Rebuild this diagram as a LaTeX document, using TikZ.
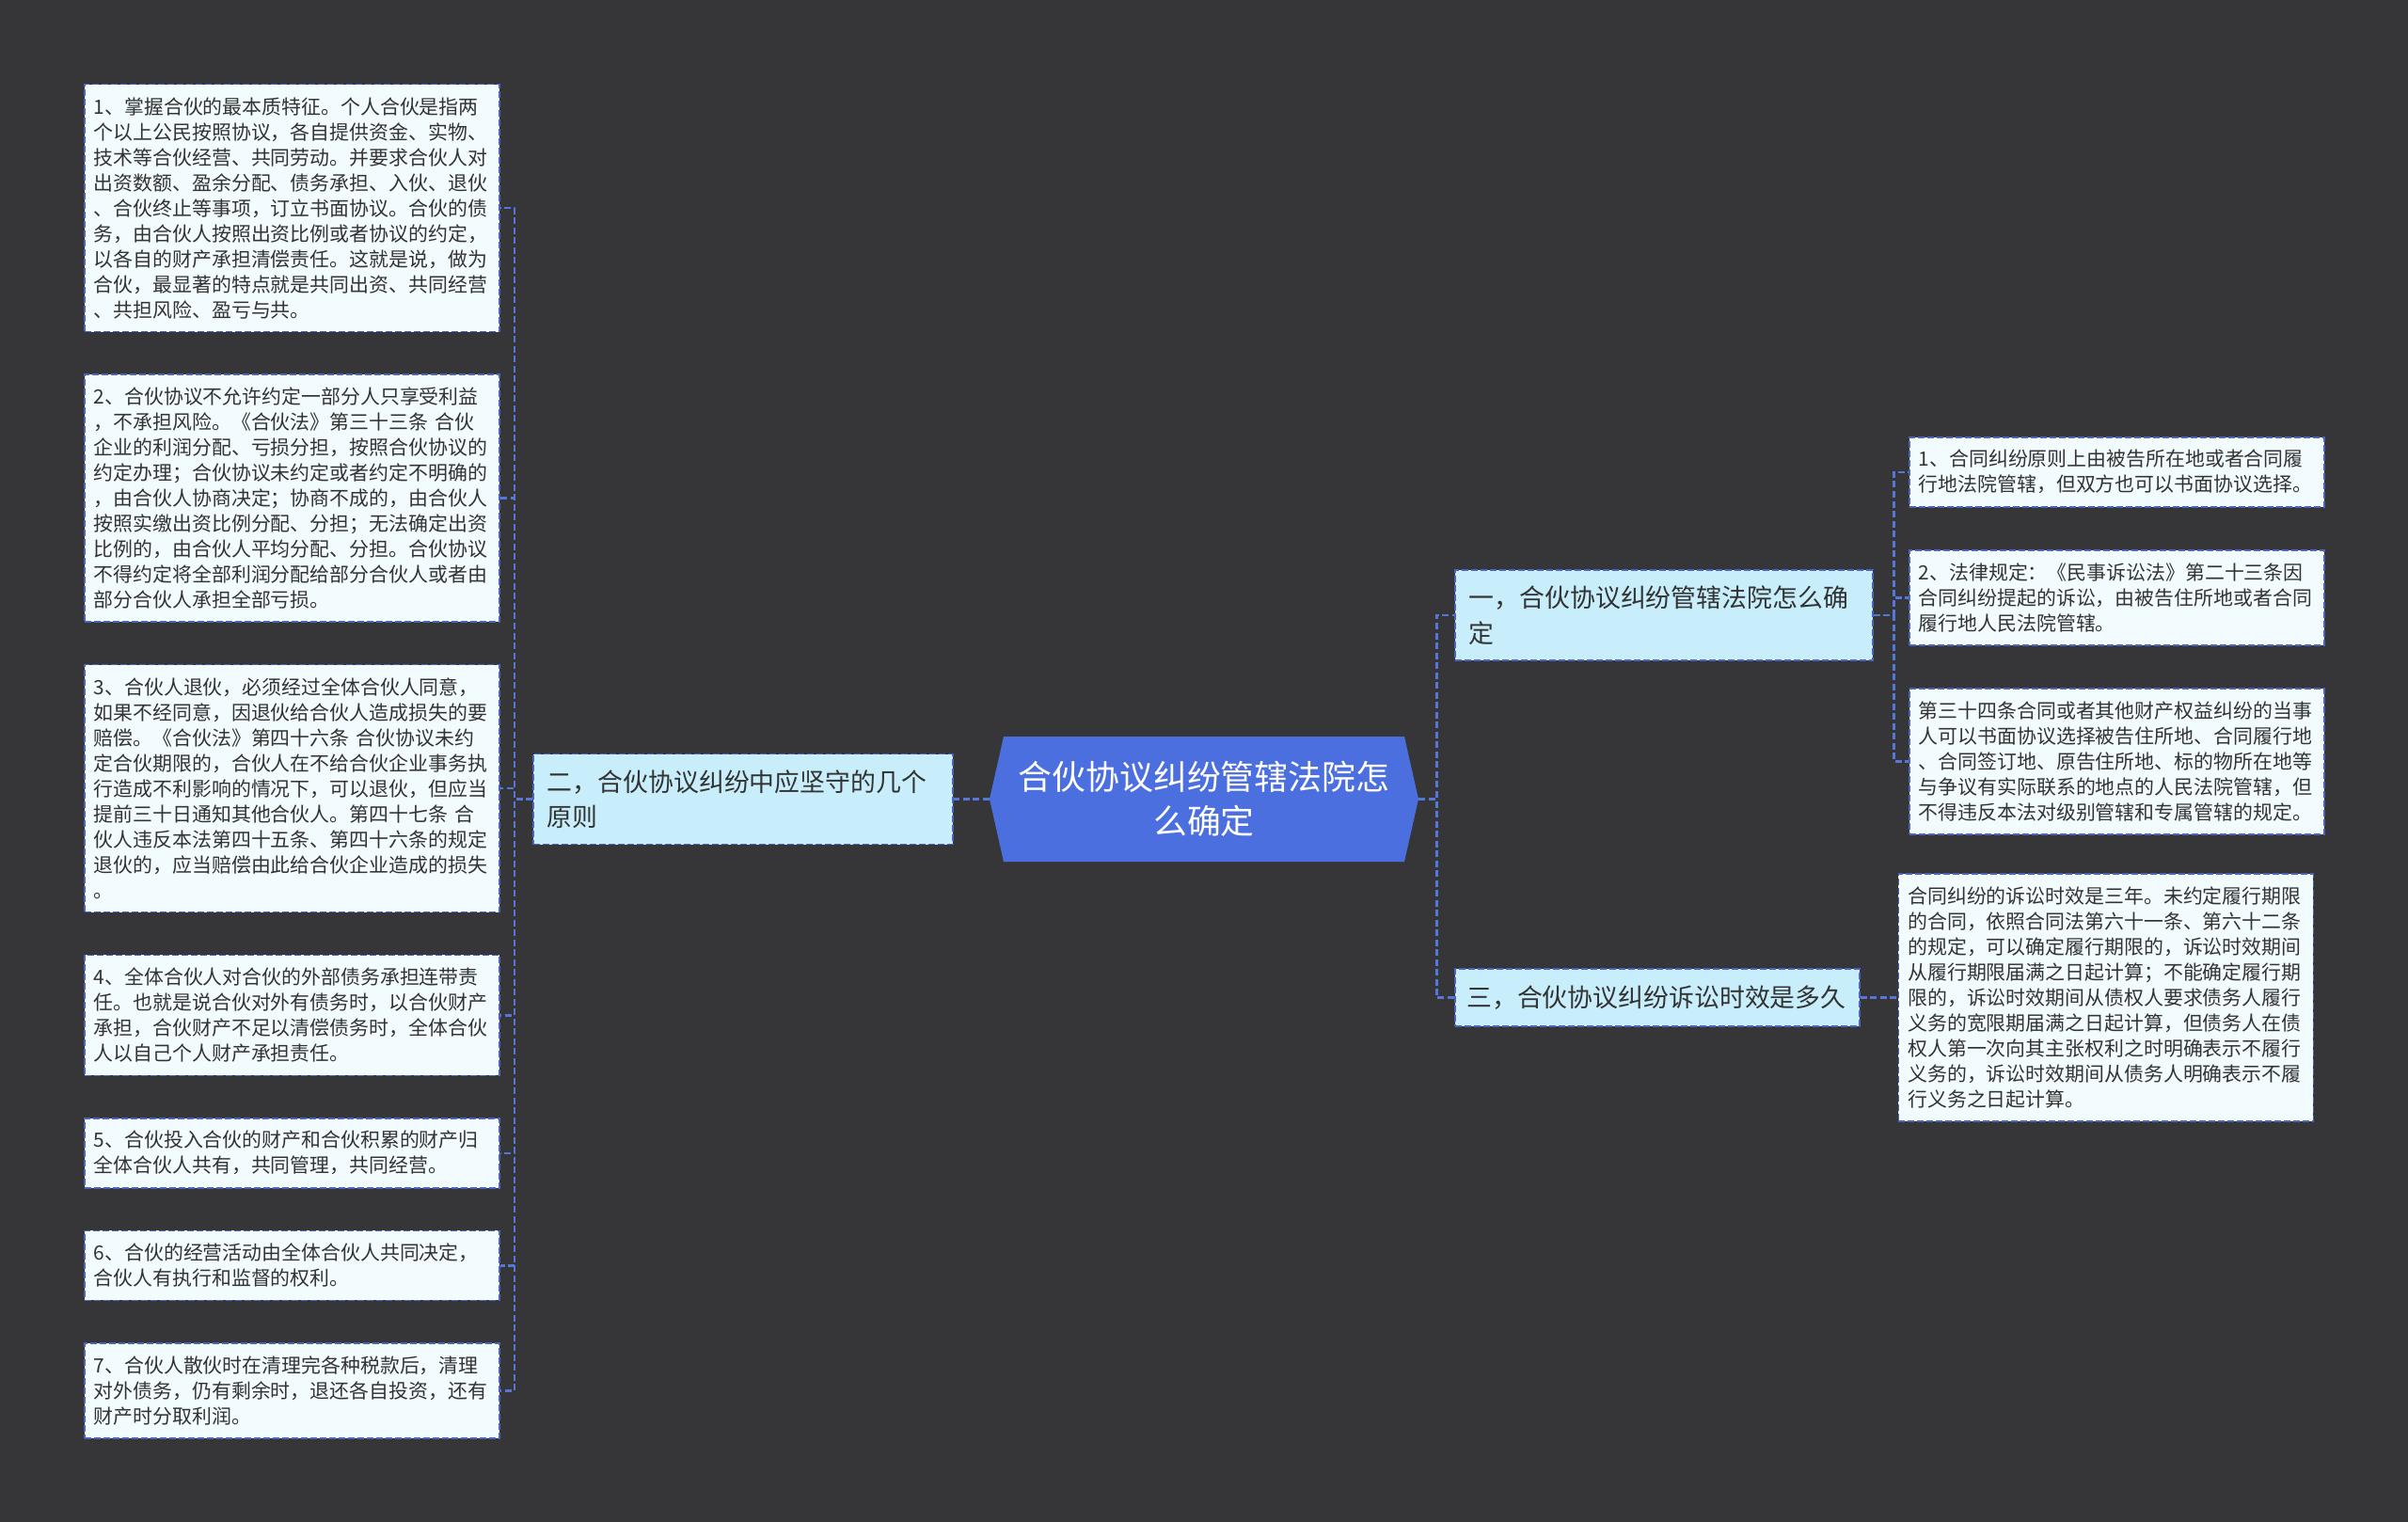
\documentclass[tikz,border=0pt]{standalone}
\usepackage{fontspec}
\setmainfont{Noto Sans CJK SC}
\usepackage{xcolor}
\usepackage{tikz}
\usetikzlibrary{positioning,shapes.symbols}
\definecolor{canvas}{HTML}{363638}
\definecolor{rootfill}{HTML}{4C6FDF}
\definecolor{branchfill}{HTML}{C8EEFB}
\definecolor{leaffill}{HTML}{F2FBFE}
\definecolor{edgec}{HTML}{4A64BF}
\definecolor{linkc}{HTML}{5677DA}
\definecolor{ink}{HTML}{333333}
\newcommand\rootfont{\fontsize{20.4pt}{27pt}\selectfont}
\newcommand\branchfont{\fontsize{15.3pt}{21.3pt}\selectfont}
\newcommand\leaffont{\fontsize{11.9pt}{15.35pt}\selectfont}
\tikzset{
  rootbox/.style={shape=signal,signal to=west and east,signal pointer angle=154.6,
    fill=rootfill,text=white,font=\rootfont,align=center,inner sep=0pt,
    minimum width=9.12cm,minimum height=2.66cm},
  branch/.style={draw=edgec,line width=0.03cm,dash pattern=on 0.14cm off 0.06cm,
    fill=branchfill,text=ink,font=\branchfont,align=left,inner xsep=0.3cm,
    inner ysep=0pt,minimum height=1.92cm},
  leaf/.style={draw=edgec,line width=0.03cm,dash pattern=on 0.14cm off 0.06cm,
    fill=leaffill,text=ink,font=\leaffont,align=left,text width=8.42cm,
    inner xsep=0.2cm,inner ysep=0pt},
  lines/.style={minimum height=#1*0.54cm+0.4cm},
  link/.style={draw=linkc,line width=0.05cm,dash pattern=on 0.14cm off 0.07cm},
}
\begin{document}
\begin{tikzpicture}[node distance=0.88cm]
  \fill[canvas] (0,0) rectangle (51.2,-32.36);
  % centre
  \node[rootbox] (root) at (25.6,-16.99) {合伙协议纠纷管辖法院怎\\么确定};
  % branches
  \node[branch,text width=8.32cm,left=0.76cm of root] (b2) {二，合伙协议纠纷中应坚守的几个\\原则};
  \node[branch,text width=8.28cm,anchor=west] (b1) at (30.92,-13.08) {一，合伙协议纠纷管辖法院怎么确\\定};
  \node[branch,text width=8.1cm,minimum height=1.22cm,inner xsep=0.25cm,anchor=west] (b3) at (30.92,-21.21) {三，合伙协议纠纷诉讼时效是多久};
  % left leaves
  \node[leaf,lines=9,anchor=north west] (l1) at (1.78,-1.78) {1、掌握合伙的最本质特征。个人合伙是指两\\
    个以上公民按照协议，各自提供资金、实物、\\
    技术等合伙经营、共同劳动。并要求合伙人对\\
    出资数额、盈余分配、债务承担、入伙、退伙\\
    、合伙终止等事项，订立书面协议。合伙的债\\
    务，由合伙人按照出资比例或者协议的约定，\\
    以各自的财产承担清偿责任。这就是说，做为\\
    合伙，最显著的特点就是共同出资、共同经营\\
    、共担风险、盈亏与共。};
  \node[leaf,lines=9,below=of l1] (l2) {2、合伙协议不允许约定一部分人只享受利益\\
    ，不承担风险。《合伙法》第三十三条 合伙\\
    企业的利润分配、亏损分担，按照合伙协议的\\
    约定办理；合伙协议未约定或者约定不明确的\\
    ，由合伙人协商决定；协商不成的，由合伙人\\
    按照实缴出资比例分配、分担；无法确定出资\\
    比例的，由合伙人平均分配、分担。合伙协议\\
    不得约定将全部利润分配给部分合伙人或者由\\
    部分合伙人承担全部亏损。};
  \node[leaf,lines=9,below=of l2] (l3) {3、合伙人退伙，必须经过全体合伙人同意，\\
    如果不经同意，因退伙给合伙人造成损失的要\\
    赔偿。《合伙法》第四十六条 合伙协议未约\\
    定合伙期限的，合伙人在不给合伙企业事务执\\
    行造成不利影响的情况下，可以退伙，但应当\\
    提前三十日通知其他合伙人。第四十七条 合\\
    伙人违反本法第四十五条、第四十六条的规定\\
    退伙的，应当赔偿由此给合伙企业造成的损失\\
    。};
  \node[leaf,lines=4,below=of l3] (l4) {4、全体合伙人对合伙的外部债务承担连带责\\
    任。也就是说合伙对外有债务时，以合伙财产\\
    承担，合伙财产不足以清偿债务时，全体合伙\\
    人以自己个人财产承担责任。};
  \node[leaf,lines=2,below=of l4] (l5) {5、合伙投入合伙的财产和合伙积累的财产归\\
    全体合伙人共有，共同管理，共同经营。};
  \node[leaf,lines=2,below=of l5] (l6) {6、合伙的经营活动由全体合伙人共同决定，\\
    合伙人有执行和监督的权利。};
  \node[leaf,lines=3,below=of l6] (l7) {7、合伙人散伙时在清理完各种税款后，清理\\
    对外债务，仍有剩余时，退还各自投资，还有\\
    财产时分取利润。};
  % right leaves
  \node[leaf,lines=2,anchor=north west] (r1) at (40.58,-9.28) {1、合同纠纷原则上由被告所在地或者合同履\\
    行地法院管辖，但双方也可以书面协议选择。};
  \node[leaf,lines=3,below=0.89cm of r1] (r2) {2、法律规定：《民事诉讼法》第二十三条因\\
    合同纠纷提起的诉讼，由被告住所地或者合同\\
    履行地人民法院管辖。};
  \node[leaf,lines=5,below=0.89cm of r2] (r3) {第三十四条合同或者其他财产权益纠纷的当事\\
    人可以书面协议选择被告住所地、合同履行地\\
    、合同签订地、原告住所地、标的物所在地等\\
    与争议有实际联系的地点的人民法院管辖，但\\
    不得违反本法对级别管辖和专属管辖的规定。};
  \node[leaf,lines=9,right=0.8cm of b3] (r4) {合同纠纷的诉讼时效是三年。未约定履行期限\\
    的合同，依照合同法第六十一条、第六十二条\\
    的规定，可以确定履行期限的，诉讼时效期间\\
    从履行期限届满之日起计算；不能确定履行期\\
    限的，诉讼时效期间从债权人要求债务人履行\\
    义务的宽限期届满之日起计算，但债务人在债\\
    权人第一次向其主张权利之时明确表示不履行\\
    义务的，诉讼时效期间从债务人明确表示不履\\
    行义务之日起计算。};
  % connectors
  \draw[link] (root.west) -- (b2.east);
  \draw[link] (root.east) -- ++(0.38,0) |- (b1.west);
  \draw[link] (root.east) -- ++(0.38,0) |- (b3.west);
  \foreach \n in {1,...,7}
    \draw[link] (b2.west) -- ++(-0.38,0) |- (l\n.east);
  \foreach \n in {1,2,3}
    \draw[link] (b1.east) -- ++(0.44,0) |- (r\n.west);
  \draw[link] (b3.east) -- (r4.west);
\end{tikzpicture}
\end{document}
